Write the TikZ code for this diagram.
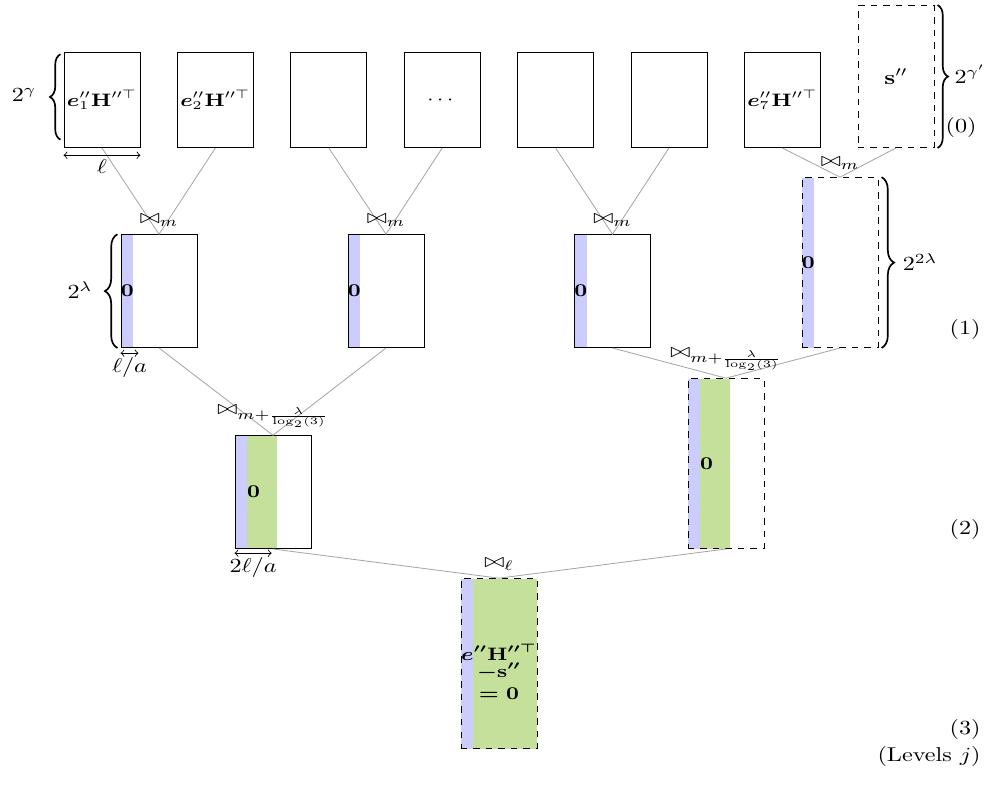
\documentclass[tikz,border=0pt]{standalone}
\usepackage{amsmath,amssymb,graphicx}
\usetikzlibrary{decorations.pathreplacing}
\definecolor{zeroblue}{RGB}{204,204,255}
\definecolor{zerogreen}{RGB}{197,224,155}
\newcommand{\sx}[1]{\scalebox{1.16}[0.96]{#1}}
\begin{document}
\begin{tikzpicture}[x=0.48pt,y=-0.48pt,
    blk/.style={draw,inner sep=0pt,minimum width=36.5pt,anchor=south,font=\small},
    lv0/.style={blk,minimum height=45.6pt},
    lv1/.style={blk,minimum height=54.2pt},
    big/.style={blk,dashed,minimum height=81.6pt},
    zb/.style={path picture={\fill[zeroblue] (path picture bounding box.south west) rectangle ([xshift=5.8pt]path picture bounding box.north west);}},
    zg/.style={path picture={\fill[zeroblue] (path picture bounding box.south west) rectangle ([xshift=5.8pt]path picture bounding box.north west);
        \fill[zerogreen] ([xshift=5.8pt]path picture bounding box.south west) rectangle ([xshift=#1]path picture bounding box.north west);}},
    link/.style={black!35},
    brc/.style={thick,decorate,decoration={brace,amplitude=#1}},
    zero/.style={anchor=west,inner sep=0pt,font=\small},
    lvl/.style={anchor=east,inner sep=0pt}]
    \useasboundingbox (0,0) rectangle (996,788);
    \foreach \i/\t in {1/{\sx{$\boldsymbol{e}''_1\mathbf{H}''^\top$}},2/{\sx{$\boldsymbol{e}''_2\mathbf{H}''^\top$}},3/{},4/{\sx{$\cdots$}},5/{},6/{},7/{\sx{$\boldsymbol{e}''_7\mathbf{H}''^\top$}}}
        \node[lv0] (b\i) at ({102+113.4*(\i-1)},148) {\t};
    \node[lv0,dashed,minimum height=68.2pt,font=\normalsize] (s) at (896,148) {\sx{$\mathbf{s}''$}};
    \node[lv1,zb] (a1) at (159,348) {};
    \node[lv1,zb] (a2) at (386,348) {};
    \node[lv1,zb] (a3) at (612.5,348) {};
    \node[big,zb] (a4) at (840,348) {};
    \node[zero] (z1) at (a1.west) {\sx{$\mathbf{0}$}};
    \node[zero] (z2) at (a2.west) {\sx{$\mathbf{0}$}};
    \node[zero] (z3) at (a3.west) {\sx{$\mathbf{0}$}};
    \node[zero] (z4) at (a4.west) {\sx{$\mathbf{0}$}};
    \node[lv1,zg=20.2pt] (c1) at (273,549) {};
    \node[big,zg=20.2pt] (c2) at (726,549) {};
    \node[zero] (z5) at ([xshift=5.8pt]c1.west) {\sx{$\mathbf{0}$}};
    \node[zero] (z6) at ([xshift=5.8pt]c2.west) {\sx{$\mathbf{0}$}};
    \node[big,zg=36.5pt] (d) at (499,749) {};
    \node[align=center,inner sep=0pt,font=\small\boldmath] (dt) at ([yshift=-4pt]d.center) {\sx{$e''\mathbf{H}''^\top$}\\[-2.9pt]\sx{$-\mathbf{s}''$}\\[-0.4pt]\sx{$=\mathbf{0}$}};
    \draw[link] (b1.south) -- (a1.north) -- (b2.south);
    \draw[link] (b3.south) -- (a2.north) -- (b4.south);
    \draw[link] (b5.south) -- (a3.north) -- (b6.south);
    \draw[link] (b7.south) -- (a4.north) -- (s.south);
    \draw[link] (a1.south) -- (c1.north) -- (a2.south);
    \draw[link] (a3.south) -- (c2.north) -- (a4.south);
    \draw[link] (c1.south) -- (d.north) -- (c2.south);
    \node[above] (j1) at (a1.north) {\sx{$\bowtie_m$}};
    \node[above] (j2) at (a2.north) {\sx{$\bowtie_m$}};
    \node[above] (j3) at (a3.north) {\sx{$\bowtie_m$}};
    \node[above] (j4) at (a4.north) {\sx{$\bowtie_m$}};
    \node[above] (j5) at (c1.north) {\sx{$\bowtie_{m+\frac{\lambda}{\log_2(3)}}$}};
    \node[above] (j6) at (c2.north) {\sx{$\bowtie_{m+\frac{\lambda}{\log_2(3)}}$}};
    \node[above] (j7) at (d.north) {\sx{$\bowtie_\ell$}};
    \draw[brc=5pt] ([xshift=-1.5pt,yshift=4pt]b1.south west) -- ([xshift=-1.5pt,yshift=-1pt]b1.north west);
    \node (g0) at (24,95) {\sx{$2^\gamma$}};
    \draw[brc=6pt] ([xshift=-1.5pt]a1.south west) -- ([xshift=-1.5pt]a1.north west);
    \node (g1) at (80,290) {\sx{$2^\lambda$}};
    \draw[brc=5pt] ([xshift=1.5pt]s.north east) -- ([xshift=1.5pt]s.south east);
    \node (g2) at (970,74) {\sx{$2^{\gamma'}$}};
    \draw[brc=6pt] ([xshift=1.5pt]a4.north east) -- ([xshift=1.5pt]a4.south east);
    \node (g3) at (920,262) {\sx{$2^{2\lambda}$}};
    \draw[<->] ([yshift=-3.5pt]b1.south west) -- ([yshift=-3.5pt]b1.south east) node[midway,below,inner sep=2pt] (w0) {\sx{$\ell$}};
    \draw[<->] ([yshift=-2.5pt]a1.south west) -- ([xshift=8.6pt,yshift=-2.5pt]a1.south west) node[midway,below,inner sep=2pt] (w1) {\sx{$\ell/a$}};
    \draw[<->] ([yshift=-2pt]c1.south west) -- ([xshift=17.8pt,yshift=-2pt]c1.south west) node[midway,below,inner sep=2pt] (w2) {\sx{$2\ell/a$}};
    \node[lvl] (n0) at (977,128) {\sx{(0)}};
    \node[lvl] (n1) at (981,330) {\sx{(1)}};
    \node[lvl] (n2) at (981,530) {\sx{(2)}};
    \node[lvl] (n3) at (981,730) {\sx{(3)}};
    \node[lvl] (nj) at (981,756) {\sx{(Levels $j$)}};
\end{tikzpicture}
\end{document}
